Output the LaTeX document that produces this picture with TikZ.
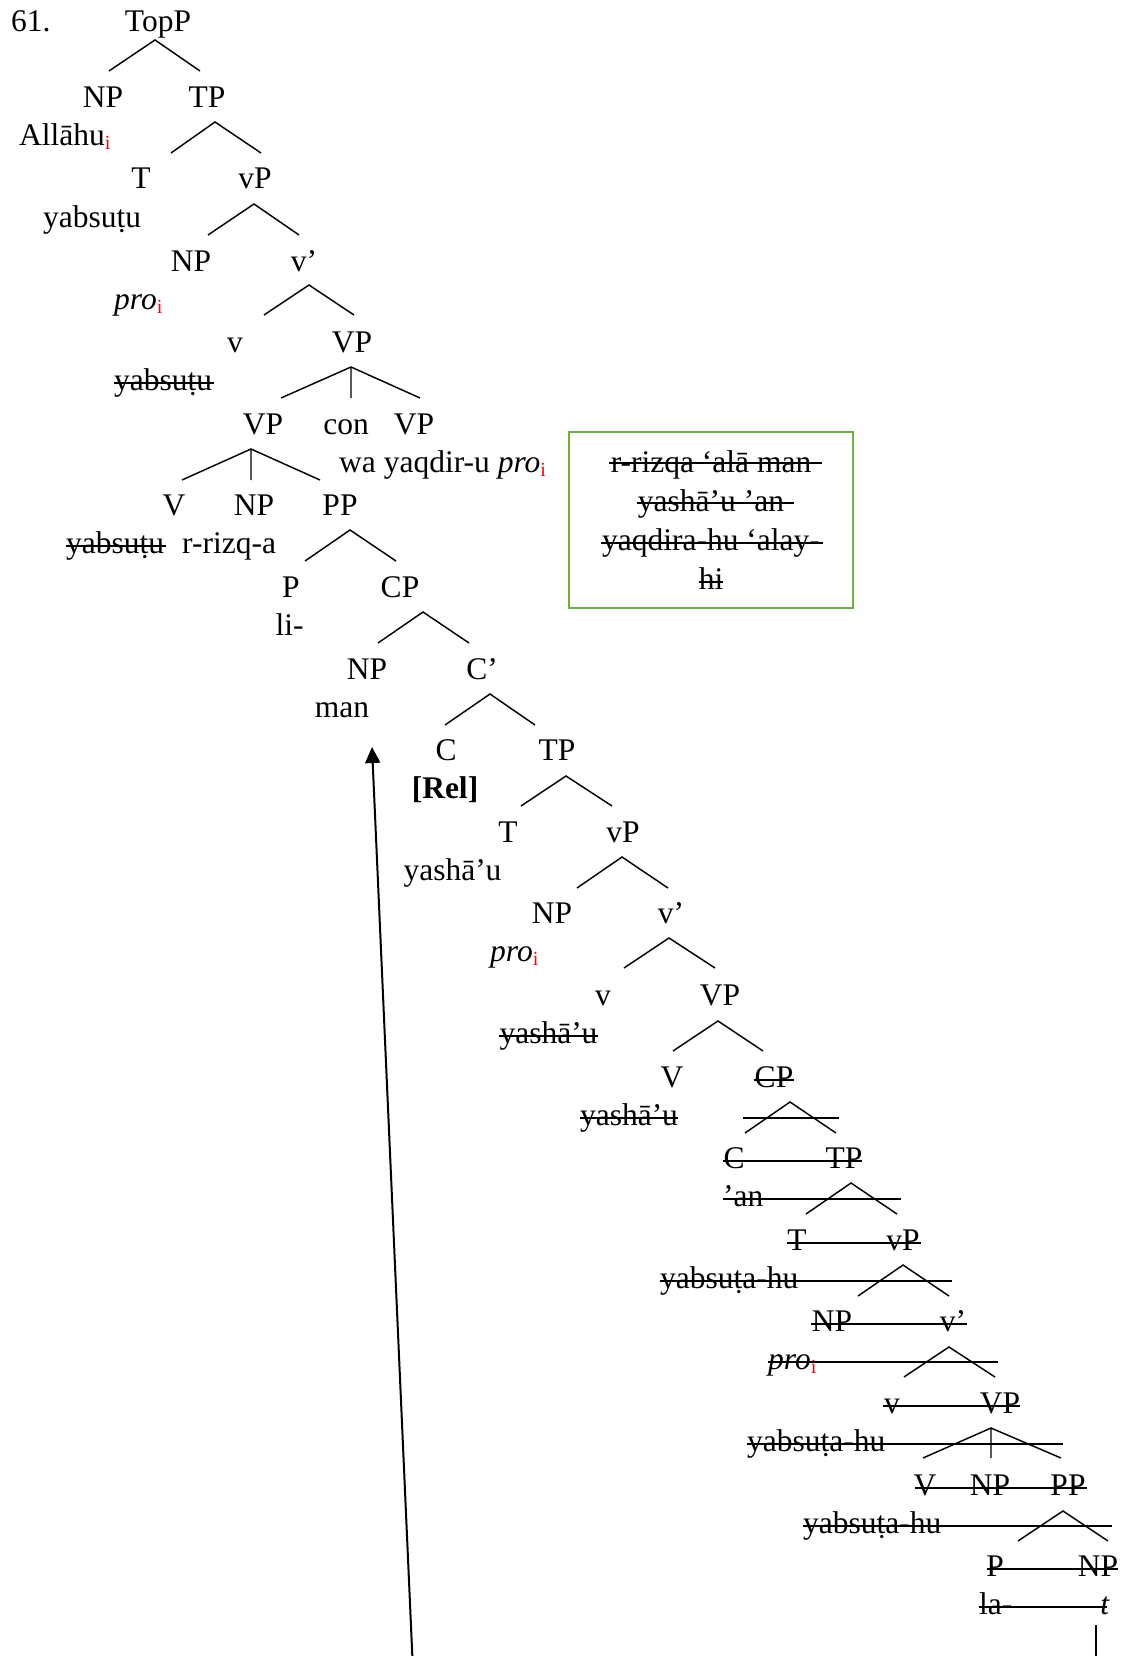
\documentclass[tikz,border=0pt]{standalone}
\usepackage{fontspec}
\setmainfont{Liberation Serif}
\usetikzlibrary{arrows.meta}
\definecolor{boxgreen}{RGB}{112,173,71}
\definecolor{idxred}{RGB}{255,0,0}
\newcommand{\coidx}{\textcolor{idxred}{\raisebox{-4pt}{\fontsize{20}{20}\selectfont i}}}

\begin{document}
\begin{tikzpicture}[
    x=1pt, y=-1pt,
    every node/.style={font=\fontsize{31.5}{39}\selectfont, inner sep=0pt, anchor=base},
    lw/.style={anchor=base west},
    branch/.style={line width=1.45pt},
    strike/.style={line width=2pt}
  ]
    \path[use as bounding box, fill=white] (0,0) rectangle (1126,1656);

    % upper tree
    \node[lw] (num) at (11,31.5) {61.};
    \node (topp) at (158,31.5) {TopP};
    \node (np1) at (103,107.5) {NP};
    \node (tp1) at (207,107.5) {TP};
    \node[lw] (allahu) at (19,145.5) {Allāhu\coidx};
    \node (t1) at (141,189) {T};
    \node (vp1) at (255,189) {vP};
    \node[lw] (yabs1) at (43,227) {yabsuṭu};
    \node (np2) at (191,271) {NP};
    \node (vbar1) at (304,271) {v’};
    \node[lw] (pro1) at (114,309) {\textit{pro}\coidx};
    \node (v1) at (235,352) {v};
    \node (vpa) at (352,352) {VP};
    \node[lw] (yabs2) at (114,390) {yabsuṭu};
    \node (vpb) at (263,434) {VP};
    \node (con) at (346,434) {con};
    \node (vpc) at (414,434) {VP};
    \node[lw] (wayaq) at (339,472) {wa yaqdir-u \textit{pro}\coidx};
    \node (vb) at (174,515.5) {V};
    \node (npb) at (254,515.5) {NP};
    \node (ppb) at (340,515.5) {PP};
    \node[lw] (yabs3) at (66,553.5) {yabsuṭu};
    \node[lw] (rizq) at (182,553.5) {r-rizq-a};
    \node (p1) at (291,597) {P};
    \node (cp1) at (400,597) {CP};
    \node (li) at (289.5,635) {li-};
    \node (npman) at (367,679) {NP};
    \node (cbar1) at (482,679) {C’};
    \node (man) at (342,717) {man};
    \node (c1) at (446,760) {C};
    \node (tp2) at (557,760) {TP};
    \node (rel) at (445,798) {\textbf{[Rel]}};
    \node (t2) at (508,842) {T};
    \node (vp2) at (623,842) {vP};
    \node (yash1) at (452.5,880) {yashā’u};
    \node (np3) at (552,923.5) {NP};
    \node (vbar2) at (671,923.5) {v’};
    \node[lw] (pro2) at (490,961.5) {\textit{pro}\coidx};
    \node (v2) at (603,1005) {v};
    \node (vpd) at (720,1005) {VP};
    \node (yash2) at (548.5,1043) {yashā’u};
    \node (vd) at (672,1087) {V};
    \node (cp2) at (774,1087) {CP};
    \node (yash3) at (629,1125) {yashā’u};

    % deleted lower tree
    \node (c2) at (734,1168) {C};
    \node (tp3) at (844,1168) {TP};
    \node[lw] (an) at (723,1206) {’an};
    \node (t3) at (797,1250) {T};
    \node (vp3) at (903,1250) {vP};
    \node[lw] (yabs4) at (660,1288) {yabsuṭa-hu};
    \node (np4) at (832,1331.5) {NP};
    \node (vbar3) at (953,1331.5) {v’};
    \node[lw] (pro3) at (768,1369.5) {\textit{pro}\coidx};
    \node (v3) at (892,1413) {v};
    \node (vpe) at (1000,1413) {VP};
    \node[lw] (yabs5) at (747,1451) {yabsuṭa-hu};
    \node (ve) at (925,1495) {V};
    \node (npe) at (990,1495) {NP};
    \node (ppe) at (1068,1495) {PP};
    \node[lw] (yabs6) at (803,1533) {yabsuṭa-hu};
    \node (p2) at (995,1576) {P};
    \node (npt) at (1098,1576) {NP};
    \node[lw] (la) at (979,1614) {la-};
    \node (trace) at (1105,1614) {\textit{t}};

    % branches
    \draw[branch] (109,71) -- (155,40) -- (200,71);
    \draw[branch] (171,153) -- (215,122) -- (261,153);
    \draw[branch] (208,235) -- (254,204) -- (299,235);
    \draw[branch] (264,315) -- (309,285) -- (354,315);
    \draw[branch] (281,398) -- (351,367) -- (420,398) (351,367) -- (351,398);
    \draw[branch] (182,480) -- (251,449) -- (320,480) (251,449) -- (251,480);
    \draw[branch] (305,561) -- (350,530) -- (396,561);
    \draw[branch] (378,643) -- (423,612) -- (469,643);
    \draw[branch] (445,725) -- (490,694) -- (535,725);
    \draw[branch] (521,806) -- (566,776) -- (612,806);
    \draw[branch] (577,888) -- (622,857) -- (668,888);
    \draw[branch] (624,968) -- (669,938) -- (715,968);
    \draw[branch] (673,1051) -- (718,1021) -- (763,1051);
    \draw[branch] (745,1133) -- (790,1102) -- (836,1133);
    \draw[branch] (806,1214) -- (851,1183) -- (897,1214);
    \draw[branch] (858,1296) -- (903,1265) -- (949,1296);
    \draw[branch] (904,1377) -- (949,1347) -- (995,1377);
    \draw[branch] (923,1458) -- (991,1428) -- (1061,1458) (991,1428) -- (991,1458);
    \draw[branch] (1018,1541) -- (1063,1511) -- (1108,1541);

    % strike-through
    \draw[strike] (114,382.5) -- (214,382.5);
    \draw[strike] (66,546) -- (166,546);
    \draw[strike] (499,1035.5) -- (598,1035.5);
    \draw[strike] (754,1079.5) -- (794,1079.5);
    \draw[strike] (580,1117.5) -- (678,1117.5);
    \draw[strike] (743,1117.5) -- (839,1117.5);
    \draw[strike] (723,1160.5) -- (862,1160.5);
    \draw[strike] (723,1198.5) -- (901,1198.5);
    \draw[strike] (787,1242.5) -- (921,1242.5);
    \draw[strike] (660,1280.5) -- (952,1280.5);
    \draw[strike] (811,1324) -- (967,1324);
    \draw[strike] (768,1362) -- (998,1362);
    \draw[strike] (883,1405.5) -- (1020,1405.5);
    \draw[strike] (747,1443.5) -- (1063,1443.5);
    \draw[strike] (915,1487.5) -- (1087,1487.5);
    \draw[strike] (803,1525.5) -- (1112,1525.5);
    \draw[strike] (987,1568.5) -- (1118,1568.5);
    \draw[strike] (979,1606.5) -- (1107,1606.5);

    % box with the deleted string
    \node[draw=boxgreen, line width=2.7pt, minimum width=284pt, minimum height=176pt,
          align=center, anchor=center] (gap) at (711,520) {%
        r-rizqa ‘alā man\\yashā’u ’an\\yaqdira-hu ‘alay-\\hi};
    \draw[strike] (609,463) -- (822,463);
    \draw[strike] (637,503) -- (794,503);
    \draw[strike] (601,543) -- (823,543);
    \draw[strike] (699,582) -- (723,582);

    % movement
    \coordinate (mvfrom) at (412.5,1660);
    \coordinate (mvto) at (372,747);
    \draw[line width=2pt, -{Triangle[length=16pt,width=15pt]}] (mvfrom) -- (mvto);
    \coordinate (tfoot) at (1096,1625);
    \coordinate (tend) at (1096,1660);
    \draw[line width=2pt] (tfoot) -- (tend);
\end{tikzpicture}
\end{document}
